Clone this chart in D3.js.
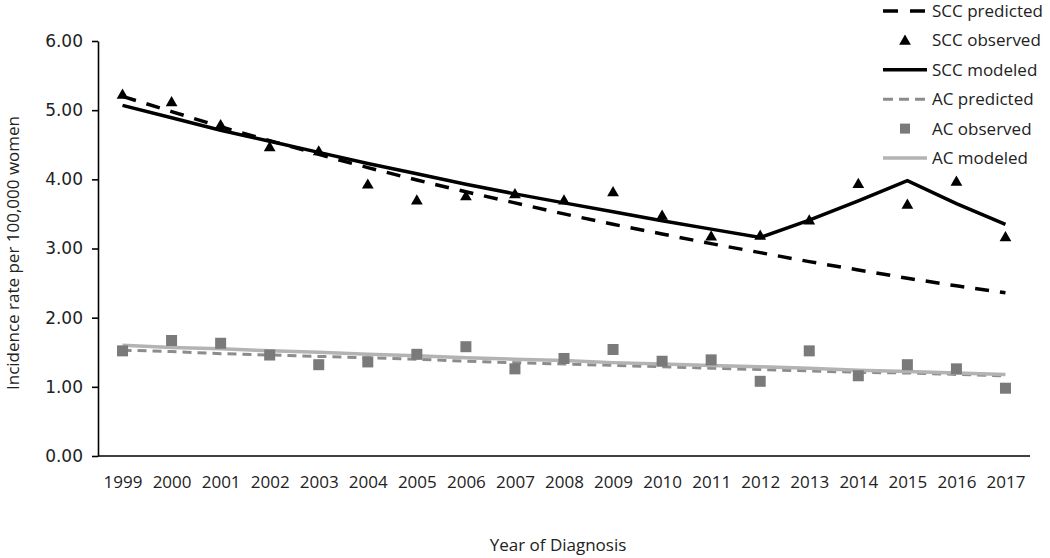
<!DOCTYPE html>
<html><head><meta charset="utf-8">
<script src="https://cdn.jsdelivr.net/npm/d3@7"></script>
<style>body{margin:0;background:#fff}svg{display:block}</style>
</head><body><svg id="c" width="1050" height="558"></svg>
<script>
const years = ["1999","2000","2001","2002","2003","2004","2005","2006","2007","2008","2009","2010","2011","2012","2013","2014","2015","2016","2017"];
const sccPredicted = [5.20,4.98,4.76,4.56,4.36,4.17,3.99,3.82,3.66,3.50,3.35,3.21,3.07,2.94,2.81,2.69,2.57,2.46,2.36];
const sccObserved  = [5.23,5.12,4.79,4.47,4.41,3.93,3.70,3.76,3.79,3.70,3.82,3.48,3.18,3.19,3.41,3.94,3.64,3.97,3.17];
const sccModeled   = [5.07,4.89,4.71,4.55,4.39,4.23,4.08,3.93,3.79,3.66,3.53,3.40,3.28,3.16,3.41,3.69,3.98,3.65,3.35];
const acPredicted  = [1.53,1.51,1.48,1.46,1.44,1.42,1.40,1.37,1.35,1.33,1.31,1.29,1.27,1.25,1.23,1.21,1.20,1.18,1.16];
const acObserved   = [1.52,1.67,1.63,1.46,1.32,1.36,1.47,1.58,1.26,1.41,1.54,1.37,1.39,1.08,1.52,1.16,1.32,1.26,0.98];
const acModeled    = [1.60,1.57,1.55,1.52,1.50,1.47,1.45,1.42,1.40,1.38,1.35,1.33,1.31,1.29,1.27,1.24,1.22,1.20,1.18];
const yTicks = [0,1,2,3,4,5,6];
const legendLabels = ["SCC predicted","SCC observed","SCC modeled","AC predicted","AC observed","AC modeled"];
const yTitle = "Incidence rate per 100,000 women";
const xTitle = "Year of Diagnosis";

const svg = d3.select("#c");
const x = d3.scalePoint().domain(years).range([98, 1030]).padding(0.5);
const y = d3.scaleLinear().domain([0, 6]).range([456, 41]);
const FONT = "'Open Sans', sans-serif";

// Y axis
const ya = svg.append("g").attr("transform","translate(98,0)")
  .call(d3.axisLeft(y).tickValues(yTicks).tickFormat(d3.format(".2f")).tickSize(6).tickSizeOuter(0).tickPadding(9));
ya.select(".domain").attr("stroke","#000").attr("stroke-width",1.6);
ya.selectAll(".tick line").attr("stroke","#000").attr("stroke-width",1.6);
ya.selectAll(".tick text").attr("font-family","'DejaVu Sans', sans-serif").attr("font-size",17).attr("fill","#222");

// X axis
const xa = svg.append("g").attr("transform","translate(0,456)")
  .call(d3.axisBottom(x).tickSize(0).tickPadding(20));
xa.select(".domain").attr("stroke","#000").attr("stroke-width",1.6).attr("d","M98,0H1030");
xa.selectAll(".tick text").attr("font-family",FONT).attr("font-size",17).attr("fill","#222");

// titles
svg.append("text").attr("transform","translate(19,253) rotate(-90)").attr("text-anchor","middle")
  .attr("font-family",FONT).attr("font-size",17).attr("fill","#222").text(yTitle);
svg.append("text").attr("x",558).attr("y",551).attr("text-anchor","middle")
  .attr("font-family",FONT).attr("font-size",17).attr("fill","#222").text(xTitle);

const line = d3.line().x((d,i)=>x(years[i])).y(d=>y(d));
const styles = {
  acPred: {stroke:"#8c8c8c", w:3, dash:"9,6"},
  acMod:  {stroke:"#b3b3b3", w:3.5, dash:null},
  sccPred:{stroke:"#000", w:3.5, dash:"14,11"},
  sccMod: {stroke:"#000", w:3.5, dash:null}
};
function drawLine(data, s){
  svg.append("path").datum(data).attr("d",line).attr("fill","none")
    .attr("stroke",s.stroke).attr("stroke-width",s.w).attr("stroke-dasharray",s.dash);
}
drawLine(acPredicted, styles.acPred);
drawLine(acModeled, styles.acMod);
svg.append("g").selectAll("rect").data(acObserved).join("rect")
  .attr("x",(d,i)=>x(years[i])-5.5).attr("y",d=>y(d)-5.5).attr("width",11).attr("height",11).attr("fill","#7a7a7a");
drawLine(sccPredicted, styles.sccPred);
drawLine(sccModeled, styles.sccMod);
const tri = d3.symbol().type(d3.symbolTriangle).size(60);
svg.append("g").selectAll("path").data(sccObserved).join("path")
  .attr("d",tri).attr("transform",(d,i)=>`translate(${x(years[i])},${y(d)+1})`).attr("fill","#000");

// legend
const lg = svg.append("g");
const rowY = i => 11 + i*29.4;
const x0 = 883, x1 = 927;
legendLabels.forEach((lab,i)=>{
  const cy = rowY(i);
  if (i===0) lg.append("line").attr("x1",x0).attr("x2",x1).attr("y1",cy).attr("y2",cy).attr("stroke","#000").attr("stroke-width",3.5).attr("stroke-dasharray","15,12");
  if (i===1) lg.append("path").attr("d",tri).attr("transform",`translate(905,${cy+1})`).attr("fill","#000");
  if (i===2) lg.append("line").attr("x1",x0).attr("x2",x1).attr("y1",cy).attr("y2",cy).attr("stroke","#000").attr("stroke-width",3.5);
  if (i===3) lg.append("line").attr("x1",x0).attr("x2",x1).attr("y1",cy).attr("y2",cy).attr("stroke","#8c8c8c").attr("stroke-width",3).attr("stroke-dasharray","10,6");
  if (i===4) lg.append("rect").attr("x",900).attr("y",cy-5).attr("width",10).attr("height",10).attr("fill","#7a7a7a");
  if (i===5) lg.append("line").attr("x1",x0).attr("x2",x1).attr("y1",cy).attr("y2",cy).attr("stroke","#b3b3b3").attr("stroke-width",3.5);
  lg.append("text").attr("x",932).attr("y",cy).attr("dy","0.35em").attr("font-family",FONT).attr("font-size",17).attr("fill","#222").text(lab);
});
</script></body></html>
